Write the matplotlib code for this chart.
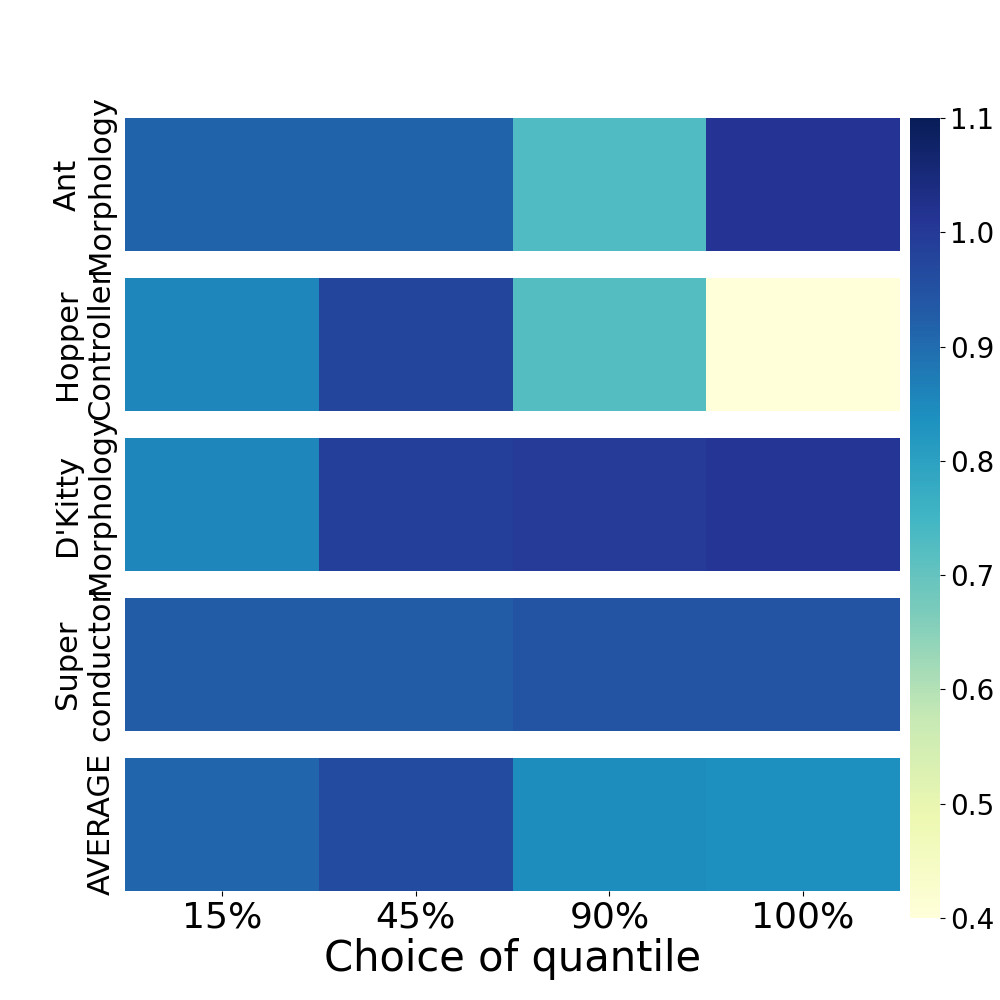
import matplotlib
matplotlib.use("Agg")
import matplotlib.pyplot as plt
import numpy as np
import seaborn as sns

rows = ["Ant\nMorphology", "Hopper\nController", "D'Kitty\nMorphology", "Super\nconductor", "AVERAGE"]
cols = ["15%", "45%", "90%", "100%"]
ant = [0.915, 0.915, 0.73, 1.01]
hopper = [0.855, 0.975, 0.725, 0.40]
dkitty = [0.855, 0.99, 0.998, 1.008]
superc = [0.93, 0.93, 0.945, 0.945]
average = [0.91, 0.965, 0.845, 0.838]

data = np.array([ant, hopper, dkitty, superc, average])

fig = plt.figure(figsize=(10, 10), dpi=100)
ax = fig.add_axes([0.125, 0.109, 0.775, 0.773])
cax = fig.add_axes([0.910, 0.082, 0.030, 0.800])

sns.heatmap(data, ax=ax, cbar_ax=cax, cmap="YlGnBu", vmin=0.4, vmax=1.1)

gap = 0.165
for i in range(len(rows)):
    ax.axhspan(i + 1 - gap, i + 1, color="white", lw=0, zorder=3)
ax.set_ylim(len(rows) - gap, 0)

ax.set_yticks(np.arange(len(rows)) + (1 - gap) / 2)
ax.set_yticklabels(rows, rotation=90, va="center", ha="right",
                   multialignment="center", fontsize=22)
ax.tick_params(axis="y", length=0, pad=7)
ax.set_xticks(np.arange(len(cols)) + 0.5)
ax.set_xticklabels(cols, fontsize=26, rotation=0)
ax.tick_params(axis="x", length=3.5, width=0.8)
ax.set_xlabel("Choice of quantile", fontsize=30, labelpad=2)

cax.set_yticks([0.4, 0.5, 0.6, 0.7, 0.8, 0.9, 1.0, 1.1])
cax.tick_params(labelsize=20)

fig.savefig("out.png", dpi=100)
